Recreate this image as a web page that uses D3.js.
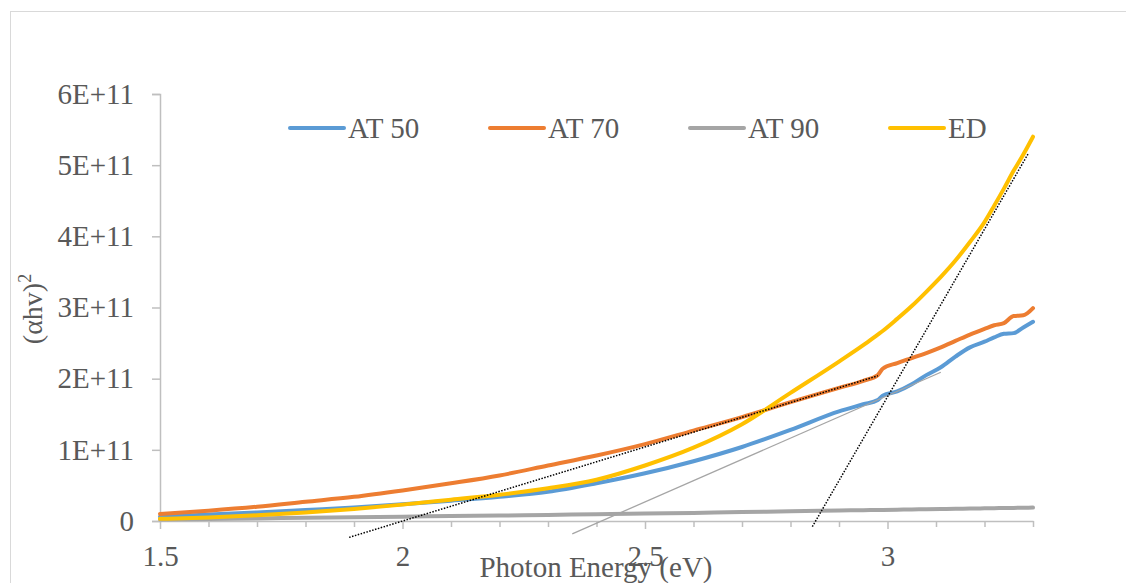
<!DOCTYPE html>
<html>
<head>
<meta charset="utf-8">
<script src="https://cdn.jsdelivr.net/npm/d3@7"></script>
<style>
  body { margin: 0; background: #fff; }
  svg { display: block; }
  text { font-family: "Liberation Serif", "Times New Roman", serif; }
</style>
</head>
<body>
<div id="chart"></div>
<script>
// photon energy (eV), shared by all series
const energy = [1.5, 1.6, 1.7, 1.8, 1.9, 2.0, 2.1, 2.2, 2.3, 2.4, 2.5, 2.6, 2.7, 2.8, 2.9,
  2.95, 2.98, 2.99, 3.02, 3.05, 3.08, 3.11, 3.14, 3.17, 3.2, 3.22, 3.24, 3.26, 3.28, 3.3];

// (ahv)^2 in units of 1E+11
const at50 = [0.06, 0.09, 0.12, 0.155, 0.19, 0.235, 0.285, 0.34, 0.41, 0.53, 0.67, 0.84, 1.04, 1.28, 1.54,
  1.64, 1.70, 1.76, 1.82, 1.92, 2.05, 2.16, 2.31, 2.44, 2.52, 2.58, 2.63, 2.64, 2.72, 2.80];
const at70 = [0.10, 0.145, 0.20, 0.27, 0.34, 0.43, 0.53, 0.64, 0.78, 0.92, 1.08, 1.27, 1.46, 1.67, 1.87,
  1.97, 2.05, 2.14, 2.22, 2.29, 2.36, 2.44, 2.53, 2.62, 2.70, 2.75, 2.78, 2.88, 2.89, 2.99];
const at90 = [0.02, 0.028, 0.036, 0.045, 0.053, 0.061, 0.069, 0.077, 0.086, 0.094, 0.104, 0.114, 0.125, 0.136, 0.147,
  0.152, 0.155, 0.156, 0.159, 0.162, 0.165, 0.168, 0.171, 0.175, 0.178, 0.180, 0.182, 0.184, 0.186, 0.188];
const ed = [0.03, 0.05, 0.08, 0.12, 0.17, 0.23, 0.30, 0.37, 0.46, 0.58, 0.78, 1.03, 1.36, 1.80, 2.24,
  2.47, 2.62, 2.67, 2.84, 3.02, 3.22, 3.43, 3.66, 3.92, 4.20, 4.43, 4.67, 4.92, 5.15, 5.40];

const seriesNames = ['AT 50', 'AT 70', 'AT 90', 'ED'];
const seriesColors = ['#5B9BD5', '#ED7D31', '#A5A5A5', '#FFC000'];

// linear fits drawn for the band gap (end points, eV and 1E+11)
const fitAT70 = {x: [1.89, 2.98], y: [-0.23, 2.04]};
const fitAT50 = {x: [2.35, 3.11], y: [-0.18, 2.09]};
const fitED = {x: [2.845, 3.29], y: [-0.08, 5.16]};

const yTicks = [0, 1, 2, 3, 4, 5, 6];
const xLabels = [1.5, 2, 2.5, 3];
const xMinor = [1.6, 1.7, 1.8, 1.9, 2.1, 2.2, 2.3, 2.4, 2.6, 2.7, 2.8, 2.9, 3.1, 3.2, 3.3];

const width = 1126;
const height = 583;
const textColor = '#595959';
const axisColor = '#BFBFBF';
const serif = '"Liberation Serif", "Times New Roman", serif';

const svg = d3.select('#chart')
  .append('svg')
  .attr('width', width)
  .attr('height', height);

svg.append('rect')
  .attr('width', width)
  .attr('height', height)
  .attr('fill', '#fff');

// chart border (runs off the right and bottom)
svg.append('rect')
  .attr('x', 10.5)
  .attr('y', 11.5)
  .attr('width', 1300)
  .attr('height', 800)
  .attr('fill', 'none')
  .attr('stroke', '#D9D9D9');

const x = d3.scaleLinear()
  .domain([1.5, 3.3])
  .range([160, 1033]);

const y = d3.scaleLinear()
  .domain([0, 6e11])
  .range([521, 94]);

// y axis
const yAxis = svg.append('g')
  .attr('transform', 'translate(160,0)')
  .call(d3.axisLeft(y)
    .tickValues(yTicks.map(d => d * 1e11))
    .tickSize(8)
    .tickPadding(18)
    .tickFormat(d => d === 0 ? '0' : (d / 1e11) + 'E+11'));
yAxis.select('.domain').attr('stroke', axisColor).attr('stroke-width', 1.5);
yAxis.selectAll('.tick line').attr('stroke', axisColor).attr('stroke-width', 1.5);
yAxis.selectAll('.tick text')
  .attr('fill', textColor)
  .attr('font-size', 29)
  .attr('font-family', serif);

// x axis: minor ticks then labelled major ticks
const xMinorAxis = svg.append('g')
  .attr('transform', 'translate(0,521)')
  .call(d3.axisBottom(x).tickValues(xMinor).tickSize(6).tickFormat(''));
xMinorAxis.select('.domain').remove();
xMinorAxis.selectAll('.tick line').attr('stroke', axisColor).attr('stroke-width', 1.5);

const xAxis = svg.append('g')
  .attr('transform', 'translate(0,521)')
  .call(d3.axisBottom(x)
    .tickValues(xLabels)
    .tickSize(8)
    .tickSizeOuter(0)
    .tickPadding(16)
    .tickFormat(d => d));
xAxis.select('.domain').attr('stroke', axisColor).attr('stroke-width', 1.5);
xAxis.selectAll('.tick line').attr('stroke', axisColor).attr('stroke-width', 1.5);
xAxis.selectAll('.tick text')
  .attr('fill', textColor)
  .attr('font-size', 29)
  .attr('font-family', serif);

// series
const allValues = [at50, at70, at90, ed];
const line = d3.line()
  .x(d => x(d.e))
  .y(d => y(d.v))
  .curve(d3.curveMonotoneX);

allValues.forEach((vals, k) => {
  const pts = energy.map((e, i) => ({e: e, v: vals[i] * 1e11}));
  svg.append('path')
    .datum(pts)
    .attr('d', line)
    .attr('fill', 'none')
    .attr('stroke', seriesColors[k])
    .attr('stroke-width', 4)
    .attr('stroke-linejoin', 'round')
    .attr('stroke-linecap', 'round');
});

// fit lines
const fitLine = d3.line()
  .x(d => x(d[0]))
  .y(d => y(d[1] * 1e11));
const fits = [
  {f: fitAT70, color: '#000', dash: '1.5,1.5', w: 1.5},
  {f: fitAT50, color: '#A5A5A5', dash: null, w: 1.3},
  {f: fitED, color: '#000', dash: '1.5,1.5', w: 1.5}
];
fits.forEach(o => {
  svg.append('path')
    .datum(o.f.x.map((v, i) => [v, o.f.y[i]]))
    .attr('d', fitLine)
    .attr('fill', 'none')
    .attr('stroke', o.color)
    .attr('stroke-width', o.w)
    .attr('stroke-dasharray', o.dash);
});

// legend
const legend = svg.append('g')
  .selectAll('g')
  .data(seriesNames)
  .join('g')
  .attr('transform', (d, i) => 'translate(' + (290 + i * 200) + ',128)');
legend.append('line')
  .attr('x1', 0)
  .attr('x2', 54)
  .attr('stroke', (d, i) => seriesColors[i])
  .attr('stroke-width', 4)
  .attr('stroke-linecap', 'round');
legend.append('text')
  .attr('x', 58)
  .attr('y', 10)
  .attr('fill', textColor)
  .attr('font-size', 29)
  .attr('font-family', serif)
  .text(d => d);

// axis titles
svg.append('text')
  .attr('x', 596)
  .attr('y', 577)
  .attr('text-anchor', 'middle')
  .attr('fill', textColor)
  .attr('font-size', 29)
  .attr('font-family', serif)
  .text('Photon Energy (eV)');

const yTitle = svg.append('text')
  .attr('transform', 'translate(42,309) rotate(-90)')
  .attr('text-anchor', 'middle')
  .attr('fill', textColor)
  .attr('font-size', 28)
  .attr('font-family', serif);
yTitle.append('tspan').text('(\u03b1hv)');
yTitle.append('tspan').attr('dy', -11).attr('font-size', 18).text('2');
</script>
</body>
</html>
